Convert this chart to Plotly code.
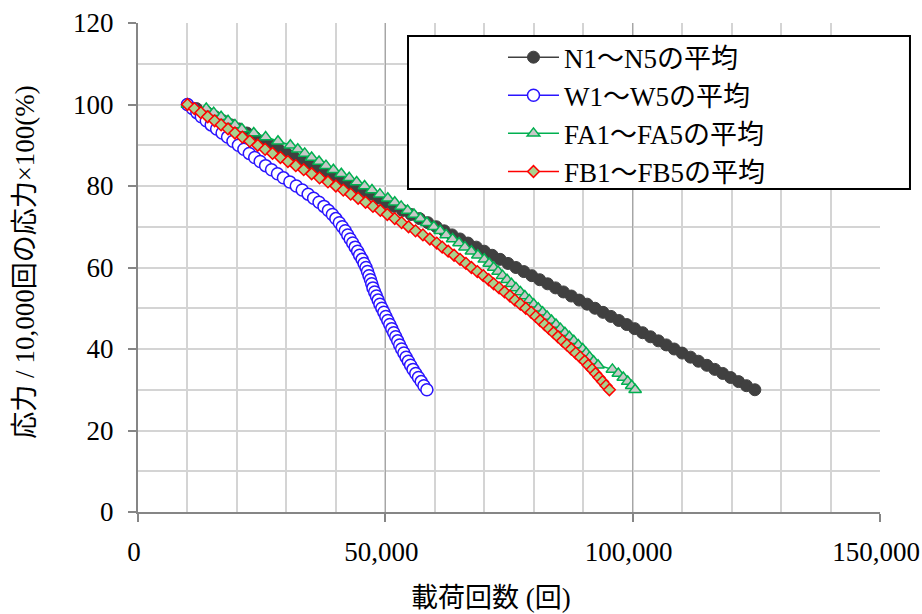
import plotly.graph_objects as go

# Stress ratio relative to the 10,000-cycle stress (%), one point per 1 % drop
stress_pct = [100, 99, 98, 97, 96, 95, 94, 93, 92, 91,
              90, 89, 88, 87, 86, 85, 84, 83, 82, 81,
              80, 79, 78, 77, 76, 75, 74, 73, 72, 71,
              70, 69, 68, 67, 66, 65, 64, 63, 62, 61,
              60, 59, 58, 57, 56, 55, 54, 53, 52, 51,
              50, 49, 48, 47, 46, 45, 44, 43, 42, 41,
              40, 39, 38, 37, 36, 35, 34, 33, 32, 31,
              30]

# Average loading cycles at which each stress ratio was reached
cycles_n = [10000, 11800, 14000, 15600, 17200, 18800, 20400, 22000, 23600, 25200,
            26800, 28400, 30000, 31600, 33200, 34800, 36500, 38200, 39900, 41600,
            43300, 45000, 46700, 48400, 50100, 51800, 53500, 55200, 56900, 58600,
            60300, 61900, 63500, 65100, 66700, 68400, 70000, 71600, 73200, 74800,
            76400, 78000, 79600, 81200, 82800, 84400, 86000, 87600, 89200, 90800,
            92400, 94000, 95600, 97200, 98800, 100400, 102000, 103600, 105200, 106800,
            108400, 110000, 111700, 113300, 115000, 116600, 118200, 119800, 121400, 123000,
            124700]

cycles_w = [10000, 11000, 11900, 12800, 13800, 14800, 15900, 17000, 18100, 19200,
            20300, 21400, 22500, 23600, 24700, 25800, 27000, 28200, 29400, 30700,
            32000, 33200, 34400, 35500, 36600, 37600, 38500, 39300, 40000, 40700,
            41300, 41900, 42400, 42900, 43400, 43900, 44400, 44800, 45300, 45700,
            46100, 46400, 46700, 47000, 47250, 47500, 47850, 48200, 48550, 48900,
            49300, 49700, 50100, 50500, 50900, 51300, 51700, 52100, 52500, 52900,
            53300, 53750, 54200, 54650, 55100, 55600, 56150, 56700, 57250, 57800,
            58400]

cycles_fa = [10000, 13800, 15300, 16800, 18200, 19600, 21000, 23400, 25800, 28300,
             30800, 32300, 33700, 35100, 36600, 38000, 39500, 41100, 42700, 44200,
             45800, 47300, 48900, 50500, 51900, 53200, 54500, 55800, 57100, 58400,
             59800, 61100, 62300, 63600, 64900, 66100, 67400, 68700, 70000, 71000,
             71900, 72800, 73700, 74600, 75500, 76400, 77300, 78200, 79100, 80000,
             80900, 81800, 82700, 83600, 84500, 85400, 86300, 87200, 88100, 89000,
             89900, 90600, 91300, 92100, 93000, 95900, 97100, 98100, 99000, 99800,
             100500]

cycles_fb = [10000, 11400, 12700, 14100, 15500, 16800, 18200, 19600, 21100, 22600,
             24200, 25700, 27200, 28800, 30300, 31900, 33500, 35100, 36700, 38400,
             40000, 41500, 43000, 44500, 46000, 47500, 49000, 50400, 51900, 53300,
             54700, 56100, 57600, 59000, 60400, 61500, 62700, 63900, 65100, 66300,
             67400, 68600, 69800, 70900, 71900, 73000, 74100, 75200, 76200, 77300,
             78400, 79500, 80400, 81300, 82200, 83100, 84000, 84900, 85800, 86700,
             87600, 88500, 89400, 90300, 91000, 91800, 92500, 93200, 93900, 94600,
             95300]

# Series labels: the wave dash is set in the CJK face so it keeps its full width
WAVE = '<span style="font-family:Noto Sans CJK JP">～</span>'
series_names = [f"N1{WAVE}N5の平均", f"W1{WAVE}W5の平均",
                f"FA1{WAVE}FA5の平均", f"FB1{WAVE}FB5の平均"]

x_ticks = [0, 50000, 100000, 150000]
x_tick_text = ["0", "50,000", "100,000", "150,000"]
y_ticks = [0, 20, 40, 60, 80, 100, 120]

x_title = "載荷回数 (回)"
y_title = "応力 / 10,000回の応力×100(%)"

FONT = "Times New Roman, Noto Sans CJK JP, serif"
text_font = dict(family=FONT, size=27, color="#000000")

fig = go.Figure()

fig.add_trace(go.Scatter(
    x=cycles_n, y=stress_pct, name=series_names[0], mode="lines+markers",
    line=dict(color="#404040", width=1.5),
    marker=dict(symbol="circle", size=12, color="#404040",
                line=dict(color="#404040", width=1)),
))
fig.add_trace(go.Scatter(
    x=cycles_w, y=stress_pct, name=series_names[1], mode="lines+markers",
    line=dict(color="#2A14FF", width=1.5),
    marker=dict(symbol="circle", size=12, color="#FFFFFF",
                line=dict(color="#2A14FF", width=1.5)),
))
fig.add_trace(go.Scatter(
    x=cycles_fa, y=stress_pct, name=series_names[2], mode="lines+markers",
    line=dict(color="#00B050", width=1.5),
    marker=dict(symbol="triangle-up", size=11, color="#C8C8C8",
                line=dict(color="#00B050", width=1.5)),
))
fig.add_trace(go.Scatter(
    x=cycles_fb, y=stress_pct, name=series_names[3], mode="lines+markers",
    line=dict(color="#FF0000", width=1.5),
    marker=dict(symbol="diamond", size=9, color="#A9D18E",
                line=dict(color="#FF0000", width=1.5)),
))

fig.update_xaxes(
    range=[0, 150000], tickvals=x_ticks, ticktext=x_tick_text,
    showgrid=True, gridcolor="#A6A6A6", gridwidth=1,
    minor=dict(dtick=10000, showgrid=True, gridcolor="#D4D4D4", gridwidth=1.5),
    showline=True, linecolor="#868686", linewidth=2,
    ticks="outside", ticklen=8, tickcolor="#868686", tickwidth=1.5,
    tickfont=text_font, zeroline=False, ticklabelstandoff=7,
    ticklabelshift=-4, ticklabeloverflow="allow", automargin=False,
)
fig.update_yaxes(
    range=[0, 120], tickvals=y_ticks,
    showgrid=True, gridcolor="#D4D4D4", gridwidth=1.5,
    minor=dict(dtick=10, showgrid=True, gridcolor="#D4D4D4", gridwidth=1.5),
    showline=True, linecolor="#868686", linewidth=2,
    ticks="outside", ticklen=8, tickcolor="#868686", tickwidth=1.5,
    tickfont=text_font, zeroline=False, ticklabelstandoff=9,
    ticklabeloverflow="allow", automargin=False,
)

# Legend frame
fig.add_shape(type="rect", xref="paper", yref="paper",
              x0=0.3639, x1=1.0404, y0=0.6605, y1=0.9734,
              line=dict(color="#000000", width=2), fillcolor="#FFFFFF",
              layer="above")

fig.add_annotation(text=x_title, xref="paper", yref="paper",
                   x=0.4757, y=-0.1759, xanchor="center", yanchor="middle",
                   showarrow=False, font=text_font)
fig.add_annotation(text=y_title, xref="paper", yref="paper",
                   x=-0.1523, y=0.512, xanchor="center", yanchor="middle",
                   textangle=-90, showarrow=False, font=text_font)

fig.update_layout(
    width=922, height=614,
    margin=dict(l=138, r=42, t=23, b=102),
    paper_bgcolor="#FFFFFF", plot_bgcolor="#FFFFFF",
    font=text_font,
    showlegend=True,
    legend=dict(x=0.4919, y=0.9793, xanchor="left", yanchor="top",
                bgcolor="rgba(0,0,0,0)", borderwidth=0,
                itemwidth=51, traceorder="normal", font=text_font),
)

fig.write_html("out.html")
